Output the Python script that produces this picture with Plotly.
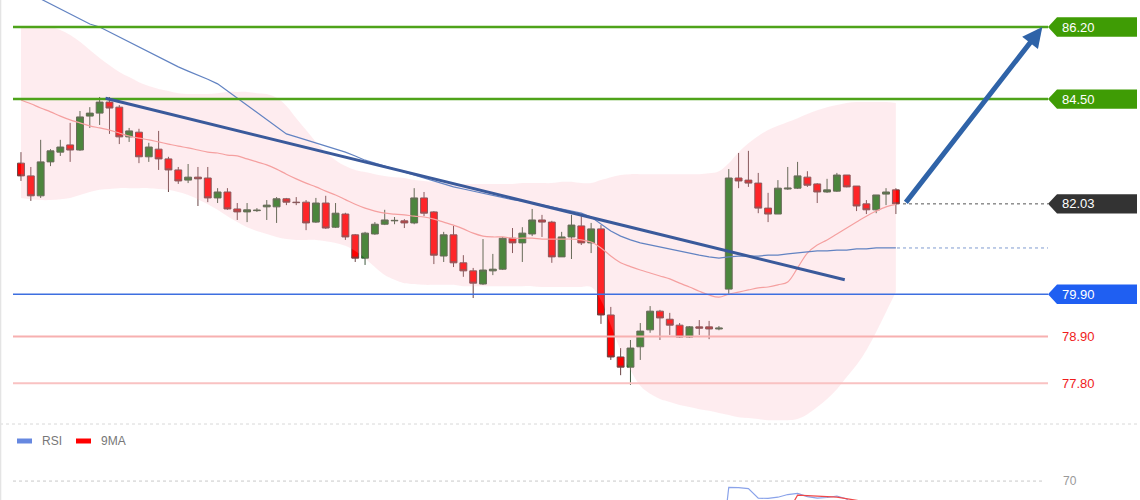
import plotly.graph_objects as go

# ---------------- data ----------------
opens = [82.99, 82.69, 82.22, 83.02, 83.25, 83.42, 83.30, 84.10, 84.17, 84.43,
         84.31, 83.61, 83.72, 83.14, 83.32, 83.09, 82.83, 82.59, 82.66, 82.64,
         82.17, 82.31, 81.91, 81.84, 81.87, 81.96, 81.96, 82.15, 82.07, 82.07,
         81.60, 82.05, 81.48, 81.79, 81.30, 80.75, 81.32, 81.55, 81.63, 81.63,
         81.58, 82.17, 81.84, 80.80, 81.30, 80.64, 80.45, 80.14, 80.45, 80.49,
         81.22, 81.11, 81.32, 81.65, 81.60, 80.78, 81.25, 81.51, 81.11, 81.44,
         79.41, 78.42, 78.18, 78.66, 79.06, 79.50, 79.31, 79.17, 78.89, 79.13,
         79.13, 79.08, 80.02, 82.64, 82.59, 82.52, 81.93, 81.79, 82.38, 82.40,
         82.66, 82.50, 82.31, 82.33, 82.71, 82.45, 82.03, 81.89, 82.26, 82.36]
highs = [83.25, 82.90, 83.54, 83.32, 83.54, 83.94, 84.22, 84.31, 84.55, 84.55,
         84.36, 83.82, 83.80, 83.47, 83.75, 83.14, 82.90, 82.97, 82.90, 82.90,
         82.40, 82.40, 82.05, 82.05, 81.93, 82.12, 82.19, 82.17, 82.19, 82.12,
         82.17, 82.22, 82.05, 81.82, 81.32, 81.37, 81.60, 81.89, 81.72, 81.67,
         82.40, 82.31, 81.86, 81.37, 81.51, 80.82, 80.52, 81.20, 80.85, 81.25,
         81.46, 81.48, 81.91, 81.77, 81.63, 81.37, 81.77, 81.74, 81.58, 81.53,
         79.60, 78.63, 78.82, 79.22, 79.62, 79.53, 79.46, 79.22, 79.15, 79.29,
         79.27, 79.15, 82.85, 83.23, 83.28, 82.76, 82.29, 82.59, 82.90, 83.02,
         82.80, 82.52, 82.62, 82.76, 82.71, 82.45, 82.12, 82.24, 82.40, 82.40]
lows = [82.57, 82.10, 82.17, 82.92, 83.16, 83.02, 83.28, 83.82, 83.89, 83.68,
        83.44, 83.49, 82.99, 83.02, 82.83, 82.31, 82.50, 82.52, 81.98, 82.07,
        82.05, 81.89, 81.65, 81.60, 81.84, 81.65, 81.58, 82.00, 82.00, 81.41,
        81.58, 81.44, 81.46, 81.18, 80.66, 80.59, 81.30, 81.53, 81.55, 81.46,
        81.55, 81.74, 80.61, 80.66, 80.54, 80.31, 79.81, 80.12, 80.35, 80.47,
        80.87, 80.66, 81.27, 81.25, 80.64, 80.78, 80.73, 81.06, 80.87, 79.20,
        78.35, 77.99, 77.76, 78.35, 78.99, 78.82, 78.94, 78.87, 78.87, 78.94,
        78.84, 79.05, 79.88, 82.40, 82.43, 81.81, 81.60, 81.79, 82.36, 82.38,
        82.43, 82.05, 82.29, 82.31, 82.42, 81.86, 81.79, 81.81, 82.00, 81.79]
closes = [82.69, 82.22, 83.02, 83.28, 83.37, 83.30, 84.08, 84.17, 84.43, 84.29,
          83.61, 83.75, 83.14, 83.37, 83.09, 82.83, 82.57, 82.66, 82.62, 82.17,
          82.31, 81.91, 81.84, 81.89, 81.88, 82.00, 82.15, 82.07, 82.06, 81.58,
          82.05, 81.46, 81.81, 81.25, 80.75, 81.34, 81.55, 81.65, 81.64, 81.58,
          82.17, 81.81, 80.82, 81.30, 80.64, 80.45, 80.16, 80.47, 80.49, 81.22,
          81.11, 81.34, 81.65, 81.60, 80.78, 81.25, 81.53, 81.11, 81.44, 79.41,
          78.42, 78.18, 78.63, 79.03, 79.50, 79.34, 79.17, 78.89, 79.13, 79.10,
          79.08, 79.10, 82.64, 82.57, 82.52, 81.93, 81.79, 82.40, 82.40, 82.69,
          82.47, 82.31, 82.36, 82.71, 82.43, 81.98, 81.89, 82.24, 82.31, 82.03]

bb_upper = [86.20, 86.22, 86.22, 86.20, 86.13, 86.01, 85.85, 85.66, 85.47, 85.30,
            85.14, 85.02, 84.90, 84.81, 84.74, 84.69, 84.64, 84.62, 84.62, 84.62,
            84.64, 84.67, 84.67, 84.67, 84.64, 84.62, 84.53, 84.34, 84.05, 83.77,
            83.49, 83.25, 83.06, 82.92, 82.83, 82.78, 82.73, 82.69, 82.66, 82.64,
            82.59, 82.57, 82.55, 82.52, 82.50, 82.50, 82.50, 82.50, 82.50, 82.50,
            82.50, 82.52, 82.52, 82.52, 82.52, 82.55, 82.55, 82.52, 82.52, 82.59,
            82.66, 82.71, 82.73, 82.73, 82.73, 82.73, 82.73, 82.73, 82.73, 82.73,
            82.75, 82.80, 82.99, 83.25, 83.46, 83.63, 83.77, 83.87, 83.96, 84.05,
            84.15, 84.24, 84.31, 84.36, 84.41, 84.43, 84.43, 84.43, 84.43, 84.41]
bb_mid = [84.48, 84.39, 84.29, 84.20, 84.10, 84.01, 83.94, 83.87, 83.82, 83.77,
          83.70, 83.63, 83.58, 83.54, 83.49, 83.44, 83.39, 83.35, 83.30, 83.25,
          83.23, 83.18, 83.16, 83.09, 83.02, 82.95, 82.85, 82.73, 82.62, 82.52,
          82.43, 82.33, 82.24, 82.13, 82.02, 81.93, 81.86, 81.81, 81.79, 81.77,
          81.74, 81.72, 81.67, 81.60, 81.53, 81.44, 81.34, 81.27, 81.25, 81.25,
          81.22, 81.22, 81.22, 81.20, 81.20, 81.20, 81.20, 81.18, 81.13, 80.99,
          80.80, 80.64, 80.55, 80.47, 80.40, 80.33, 80.26, 80.16, 80.07, 79.97,
          79.88, 79.83, 79.90, 79.95, 80.00, 80.05, 80.07, 80.12, 80.19, 80.52,
          80.87, 81.06, 81.18, 81.32, 81.46, 81.60, 81.74, 81.86, 81.96, 82.02]
bb_lower = [82.17, 82.14, 82.12, 82.12, 82.14, 82.17, 82.24, 82.31, 82.36, 82.38,
            82.40, 82.40, 82.40, 82.40, 82.38, 82.36, 82.31, 82.24, 82.14, 82.02,
            81.89, 81.74, 81.60, 81.48, 81.39, 81.32, 81.25, 81.20, 81.18, 81.18,
            81.18, 81.15, 81.11, 81.04, 80.92, 80.75, 80.54, 80.35, 80.24, 80.16,
            80.14, 80.12, 80.12, 80.12, 80.12, 80.09, 80.09, 80.09, 80.09, 80.09,
            80.09, 80.09, 80.09, 80.07, 80.07, 80.07, 80.07, 80.07, 80.07, 79.76,
            79.17, 78.58, 78.11, 77.74, 77.55, 77.43, 77.36, 77.29, 77.24, 77.19,
            77.15, 77.10, 77.05, 77.00, 76.98, 76.96, 76.93, 76.93, 76.93, 76.96,
            77.07, 77.24, 77.43, 77.66, 77.95, 78.23, 78.58, 79.01, 79.48, 79.95]
ma_slow = [87.10, 86.98, 86.86, 86.74, 86.62, 86.51, 86.39, 86.27, 86.20, 86.08,
           85.96, 85.85, 85.73, 85.61, 85.49, 85.38, 85.26, 85.16, 85.07, 84.97,
           84.86, 84.69, 84.53, 84.36, 84.20, 84.01, 83.84, 83.68, 83.61, 83.54,
           83.46, 83.39, 83.32, 83.25, 83.16, 83.06, 82.99, 82.92, 82.85, 82.78,
           82.71, 82.64, 82.57, 82.50, 82.43, 82.38, 82.33, 82.29, 82.24, 82.19,
           82.13, 82.10, 82.05, 82.00, 81.96, 81.91, 81.86, 81.81, 81.72, 81.55,
           81.39, 81.27, 81.18, 81.11, 81.06, 81.01, 80.97, 80.92, 80.87, 80.82,
           80.78, 80.75, 80.78, 80.80, 80.80, 80.80, 80.82, 80.82, 80.85, 80.87,
           80.89, 80.92, 80.92, 80.94, 80.94, 80.97, 80.97, 80.99, 80.99, 80.99]
rsi = [48, 42, 52, 55, 56, 55, 61, 62, 63, 61,
       53, 54, 49, 51, 48, 45, 42, 43, 42, 39,
       41, 37, 36, 37, 37, 39, 42, 41, 41, 37,
       44, 40, 43, 39, 33, 42, 45, 47, 47, 46,
       54, 50, 40, 46, 39, 37, 34, 40, 40, 52,
       50, 53, 57, 56, 46, 51, 54, 49, 53, 32,
       25, 23, 30, 36, 42, 40, 38, 36, 39, 38,
       38, 39, 67.9, 67.8, 67.5, 64.3, 64.2, 64.6, 65.5, 65.9,
       64.8, 64.3, 64.5, 65.0, 64.0, 60.5, 59.0, 61.0, 61.5, 59.0]
rsi_ma = [50, 49, 49, 50, 51, 52, 53, 54, 55, 57,
          57, 57, 57, 56, 55, 53, 51, 49, 47, 45,
          44, 42, 41, 40, 39, 39, 39, 39, 39, 39,
          39, 40, 40, 40, 40, 40, 40, 41, 42, 43,
          44, 45, 46, 47, 46, 45, 44, 43, 42, 43,
          43, 44, 45, 46, 47, 49, 51, 52, 51, 50,
          48, 45, 43, 41, 40, 38, 36, 34, 35, 37,
          38, 38, 41, 44, 47, 50, 53, 56, 59.5, 65.3,
          65.2, 65.0, 64.8, 64.6, 64.1, 63.5, 62.8, 62.3, 62.0, 61.5]

resistance_levels = [86.20, 84.50]
last_price = 82.03
pivot_level = 79.90
support_levels = [78.90, 77.80]
ma_slow_last = 80.99
rsi_level = 70
trend_x = [8.6, 83.8]
trend_y = [84.52, 80.24]
arrow_from = (89.9, 82.03)
arrow_to = (103.9, 86.20)

idx = list(range(len(opens)))

# ---------------- layout constants ----------------
W, H = 1140, 500
X_LEFT = 13 / W
X_RIGHT = 1048 / W
TAG_BODY = 1057 / W
TAG_END = 1137 / W
TEXT_X = 1060 / W
TAG_H = 0.229
FONT = "Liberation Sans, Arial, sans-serif"

fig = go.Figure()

fig.add_trace(go.Scatter(x=idx, y=bb_upper, mode="lines", line=dict(width=0, shape="spline"),
                         hoverinfo="skip", showlegend=False))
fig.add_trace(go.Scatter(x=idx, y=bb_lower, mode="lines", line=dict(width=0, shape="spline"),
                         fill="tonexty", fillcolor="rgba(250,170,180,0.22)",
                         hoverinfo="skip", showlegend=False))
fig.add_trace(go.Scatter(x=idx, y=bb_mid, mode="lines", line=dict(color="#f5a0a0", width=1.2, shape="spline"),
                         hoverinfo="skip", showlegend=False))
fig.add_trace(go.Scatter(x=idx, y=ma_slow, mode="lines", line=dict(color="#6283c2", width=1.2),
                         hoverinfo="skip", showlegend=False))

fig.add_trace(go.Candlestick(
    x=idx, open=opens, high=highs, low=lows, close=closes,
    increasing=dict(line=dict(color="#3f5a3f", width=1), fillcolor="#1b7d1b"),
    decreasing=dict(line=dict(color="#6a4444", width=1), fillcolor="#ff0000"),
    whiskerwidth=0, showlegend=False, hoverinfo="skip"))

fig.add_trace(go.Scatter(x=idx, y=rsi, yaxis="y2", mode="lines",
                         line=dict(color="#8aa3ea", width=1.2), hoverinfo="skip", showlegend=False))
fig.add_trace(go.Scatter(x=idx, y=rsi_ma, yaxis="y2", mode="lines",
                         line=dict(color="#f04848", width=1.2), hoverinfo="skip", showlegend=False))

shapes = []
annotations = []


def tag(y, color, text):
    path = (f"M {X_RIGHT},{y} L {TAG_BODY},{y + TAG_H} L {TAG_END},{y + TAG_H} "
            f"L {TAG_END},{y - TAG_H} L {TAG_BODY},{y - TAG_H} Z")
    shapes.append(dict(type="path", xref="paper", yref="y", path=path,
                       fillcolor=color, line=dict(width=0)))
    annotations.append(dict(x=TEXT_X, y=y, xref="paper", yref="y", text=text,
                            showarrow=False, xanchor="left", yanchor="middle",
                            font=dict(family=FONT, size=13, color="white")))


for lv in resistance_levels:
    shapes.append(dict(type="line", xref="paper", yref="y", x0=X_LEFT, x1=X_RIGHT, y0=lv, y1=lv,
                       line=dict(color="#4ea31a", width=2.5)))
    tag(lv, "#3f9c05", f"{lv:.2f}")

shapes.append(dict(type="line", xref="paper", yref="y", x0=X_LEFT, x1=X_RIGHT, y0=pivot_level, y1=pivot_level,
                   line=dict(color="#3d6fe0", width=1.5)))
tag(pivot_level, "#1f5ff2", f"{pivot_level:.2f}")

for lv, col in zip(support_levels, ["#f7b0b0", "#f9c2c2"]):
    shapes.append(dict(type="line", xref="paper", yref="y", x0=X_LEFT, x1=X_RIGHT, y0=lv, y1=lv,
                       line=dict(color=col, width=2)))
    annotations.append(dict(x=TEXT_X, y=lv, xref="paper", yref="y", text=f"{lv:.2f}",
                            showarrow=False, xanchor="left", yanchor="middle",
                            font=dict(family=FONT, size=13, color="#f01c1c")))

# last price dotted line + tag
shapes.append(dict(type="line", xref="paper", yref="y", x0=903 / W, x1=X_RIGHT, y0=last_price, y1=last_price,
                   line=dict(color="#555555", width=1, dash="dot")))
tag(last_price, "#333333", f"{last_price:.2f}")

# slow MA projection dotted
shapes.append(dict(type="line", xref="paper", yref="y", x0=897 / W, x1=X_RIGHT, y0=ma_slow_last, y1=ma_slow_last,
                   line=dict(color="#7f9bd0", width=1, dash="dot")))

# trend line
shapes.append(dict(type="line", xref="x", yref="y", x0=trend_x[0], x1=trend_x[1], y0=trend_y[0], y1=trend_y[1],
                   line=dict(color="#3a5a9b", width=3)))

# arrow
annotations.append(dict(x=arrow_to[0], y=arrow_to[1], ax=arrow_from[0], ay=arrow_from[1],
                        xref="x", yref="y", axref="x", ayref="y", text="", showarrow=True,
                        arrowhead=2, arrowsize=0.8, arrowwidth=5, arrowcolor="#2f63a8", standoff=0))

# panel separator and left border
shapes.append(dict(type="line", xref="paper", yref="paper", x0=0, x1=1, y0=1 - 424 / H, y1=1 - 424 / H,
                   line=dict(color="#d8d8d8", width=1, dash="dot")))
shapes.append(dict(type="line", xref="paper", yref="paper", x0=0.0005, x1=0.0005, y0=0, y1=1,
                   line=dict(color="#e4e4e4", width=1.5)))

# RSI 70 line
shapes.append(dict(type="line", xref="paper", yref="y2", x0=X_LEFT, x1=1045 / W, y0=rsi_level, y1=rsi_level,
                   line=dict(color="#c8c8c8", width=1, dash="dot")))
annotations.append(dict(x=1061 / W, y=rsi_level, xref="paper", yref="y2", text=str(rsi_level),
                        showarrow=False, xanchor="left", yanchor="middle",
                        font=dict(family=FONT, size=12, color="#999999")))

# RSI legend
leg_y = 1 - 441 / H
shapes.append(dict(type="rect", xref="paper", yref="paper", x0=17 / W, x1=32 / W,
                   y0=leg_y - 2.5 / H, y1=leg_y + 2.5 / H, fillcolor="#6688e0", line=dict(width=0)))
annotations.append(dict(x=40 / W, y=leg_y, xref="paper", yref="paper", text="RSI", showarrow=False,
                        xanchor="left", yanchor="middle", font=dict(family=FONT, size=12, color="#777777")))
shapes.append(dict(type="rect", xref="paper", yref="paper", x0=76 / W, x1=91 / W,
                   y0=leg_y - 2.5 / H, y1=leg_y + 2.5 / H, fillcolor="#ff0000", line=dict(width=0)))
annotations.append(dict(x=99 / W, y=leg_y, xref="paper", yref="paper", text="9MA", showarrow=False,
                        xanchor="left", yanchor="middle", font=dict(family=FONT, size=12, color="#777777")))

fig.update_layout(
    width=W, height=H, margin=dict(l=0, r=0, t=0, b=0),
    paper_bgcolor="white", plot_bgcolor="white",
    showlegend=False, hovermode=False, boxgap=0,
    xaxis=dict(range=[-21 / 9.83, (W - 21) / 9.83], visible=False, domain=[0, 1],
               rangeslider=dict(visible=False), fixedrange=True),
    yaxis=dict(range=[76.863, 86.837], domain=[1 - 423 / H, 1], visible=False, fixedrange=True),
    yaxis2=dict(range=[63.67, 89.0], domain=[0, 1 - 424 / H - 0.0005], visible=False, fixedrange=True),
    shapes=shapes, annotations=annotations,
)

fig.write_html("out.html")
